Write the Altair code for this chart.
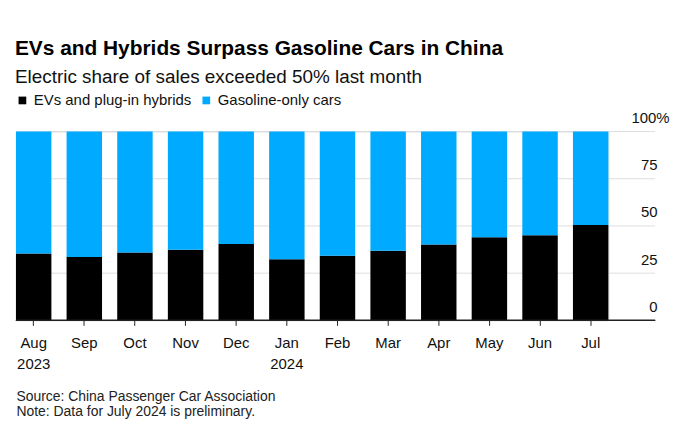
import altair as alt
import pandas as pd

months = ["Aug 2023", "Sep 2023", "Oct 2023", "Nov 2023", "Dec 2023", "Jan 2024",
          "Feb 2024", "Mar 2024", "Apr 2024", "May 2024", "Jun 2024", "Jul 2024"]
ev_share = [35.4, 33.5, 36.0, 37.4, 40.5, 32.3, 34.2, 36.8, 40.2, 44.0, 45.1, 50.5]
series = ["EVs and plug-in hybrids", "Gasoline-only cars"]
colors = ["#000000", "#00AAFF"]
y_ticks = [0, 25, 50, 75, 100]

rows = []
for m, v in zip(months, ev_share):
    rows.append({"month": m, "series": series[0], "share": v, "order": 0})
    rows.append({"month": m, "series": series[1], "share": round(100 - v, 1), "order": 1})
df = pd.DataFrame(rows)
grid_df = pd.DataFrame({"v": y_ticks})

W, H = 596, 190
EXT = 47
FONT = "Liberation Sans"

y_scale = alt.Scale(domain=[0, 100], nice=False)

y_axis = alt.Axis(
    orient="right",
    values=y_ticks,
    title=None,
    domain=False,
    ticks=False,
    grid=False,
    labelAlign="right",
    labelBaseline="alphabetic",
    labelPadding={"condition": {"test": "datum.value == 100", "value": 61}, "value": 49},
    labelOffset=-9,
    labelFlush=False,
    labelFont=FONT,
    labelFontSize=15,
    labelColor="#111111",
    labelExpr="datum.value == 100 ? '100%' : datum.label",
)

grid = alt.Chart(grid_df).mark_rule(color="#dedede", strokeWidth=1).encode(
    y=alt.Y("v:Q", scale=y_scale, axis=y_axis),
    x=alt.value(0),
    x2=alt.value(W + EXT),
)

bars = alt.Chart(df).mark_bar().encode(
    x=alt.X(
        "month:N",
        sort=months,
        scale=alt.Scale(paddingInner=0.3, paddingOuter=0),
        axis=alt.Axis(
            title=["Source: China Passenger Car Association",
                   "Note: Data for July 2024 is preliminary."],
            titleAnchor="start",
            titleAlign="left",
            titleBaseline="top",
            titleFont=FONT,
            titleFontSize=14,
            titleFontWeight="normal",
            titleColor="#222222",
            titleLineHeight=15,
            titlePadding=19,
            labelExpr="(datum.label == 'Aug 2023' || datum.label == 'Jan 2024') ? split(datum.label, ' ') : split(datum.label, ' ')[0]",
            labelAngle=0,
            labelFont=FONT,
            labelFontSize=15,
            labelColor="#111111",
            labelLineHeight=21,
            labelPadding=10,
            labelBaseline="top",
            domain=False,
            ticks=True,
            tickSize=5,
            tickColor="#222222",
            tickWidth=1,
            grid=False,
        ),
    ),
    y=alt.Y("share:Q", stack="zero", scale=y_scale, axis=y_axis),
    color=alt.Color(
        "series:N",
        scale=alt.Scale(domain=series, range=colors),
        legend=alt.Legend(
            title=None,
            orient="none",
            legendX=-1,
            legendY=-39,
            direction="horizontal",
            symbolType="square",
            symbolSize=60,
            symbolStrokeWidth=0,
            labelFont=FONT,
            labelFontSize=15,
            labelColor="#111111",
            labelOffset=4,
            columnPadding=7,
            padding=0,
        ),
    ),
    order=alt.Order("order:Q"),
)

baseline = alt.Chart(grid_df).mark_rule(color="#222222", strokeWidth=1).encode(
    y=alt.datum(0, scale=y_scale, axis=y_axis),
    x=alt.value(0),
    x2=alt.value(W + EXT),
)

chart = alt.layer(grid, bars, baseline).properties(
    width=W,
    height=H,
    padding={"left": 7, "top": 29, "right": 5, "bottom": 5},
    title=alt.TitleParams(
        text="EVs and Hybrids Surpass Gasoline Cars in China",
        subtitle="Electric share of sales exceeded 50% last month",
        anchor="start",
        font=FONT,
        fontSize=21,
        fontWeight="bold",
        color="#000000",
        subtitleFont=FONT,
        subtitleFontSize=19,
        subtitleColor="#111111",
        subtitlePadding=9,
        offset=6,
    ),
).configure_view(stroke=None).configure(background="white")

chart.save("out.html", embed_options={"renderer": "svg", "actions": False})
